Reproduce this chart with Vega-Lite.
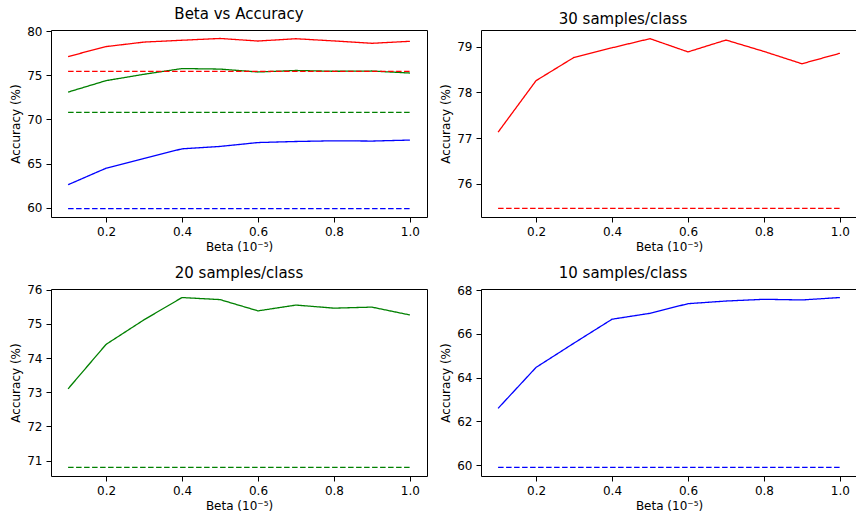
{
  "$schema": "https://vega.github.io/schema/vega-lite/v6.json",
  "background": "white",
  "padding": {"left": 9, "top": 6, "right": 0, "bottom": 0},
  "config": {
    "font": "DejaVu Sans",
    "view": {"stroke": "black", "strokeWidth": 1},
    "axis": {
      "grid": false,
      "domain": false,
      "tickColor": "black",
      "tickSize": 5,
      "labelColor": "black",
      "labelFontSize": 12,
      "labelPadding": 4,
      "titleColor": "black",
      "titleFontSize": 12,
      "titleFontWeight": "normal",
      "titlePadding": 4
    },
    "title": {"fontSize": 15, "fontWeight": "normal", "color": "black", "offset": 3},
    "line": {"strokeWidth": 1.3}
  },
  "datasets": {
    "acc": [
      {"beta": 0.1, "acc": 77.13, "series": "30", "type": "ours"},
      {"beta": 0.2, "acc": 78.26, "series": "30", "type": "ours"},
      {"beta": 0.3, "acc": 78.77, "series": "30", "type": "ours"},
      {"beta": 0.4, "acc": 78.98, "series": "30", "type": "ours"},
      {"beta": 0.5, "acc": 79.18, "series": "30", "type": "ours"},
      {"beta": 0.6, "acc": 78.89, "series": "30", "type": "ours"},
      {"beta": 0.7, "acc": 79.15, "series": "30", "type": "ours"},
      {"beta": 0.8, "acc": 78.9, "series": "30", "type": "ours"},
      {"beta": 0.9, "acc": 78.63, "series": "30", "type": "ours"},
      {"beta": 1.0, "acc": 78.86, "series": "30", "type": "ours"},
      {"beta": 0.1, "acc": 73.1, "series": "20", "type": "ours"},
      {"beta": 0.2, "acc": 74.4, "series": "20", "type": "ours"},
      {"beta": 0.3, "acc": 75.12, "series": "20", "type": "ours"},
      {"beta": 0.4, "acc": 75.77, "series": "20", "type": "ours"},
      {"beta": 0.5, "acc": 75.71, "series": "20", "type": "ours"},
      {"beta": 0.6, "acc": 75.38, "series": "20", "type": "ours"},
      {"beta": 0.7, "acc": 75.55, "series": "20", "type": "ours"},
      {"beta": 0.8, "acc": 75.46, "series": "20", "type": "ours"},
      {"beta": 0.9, "acc": 75.49, "series": "20", "type": "ours"},
      {"beta": 1.0, "acc": 75.26, "series": "20", "type": "ours"},
      {"beta": 0.1, "acc": 62.6, "series": "10", "type": "ours"},
      {"beta": 0.2, "acc": 64.47, "series": "10", "type": "ours"},
      {"beta": 0.3, "acc": 65.58, "series": "10", "type": "ours"},
      {"beta": 0.4, "acc": 66.67, "series": "10", "type": "ours"},
      {"beta": 0.5, "acc": 66.94, "series": "10", "type": "ours"},
      {"beta": 0.6, "acc": 67.38, "series": "10", "type": "ours"},
      {"beta": 0.7, "acc": 67.5, "series": "10", "type": "ours"},
      {"beta": 0.8, "acc": 67.58, "series": "10", "type": "ours"},
      {"beta": 0.9, "acc": 67.55, "series": "10", "type": "ours"},
      {"beta": 1.0, "acc": 67.66, "series": "10", "type": "ours"},
      {"beta": 0.1, "acc": 75.46, "series": "30", "type": "baseline"},
      {"beta": 1.0, "acc": 75.46, "series": "30", "type": "baseline"},
      {"beta": 0.1, "acc": 70.8, "series": "20", "type": "baseline"},
      {"beta": 1.0, "acc": 70.8, "series": "20", "type": "baseline"},
      {"beta": 0.1, "acc": 59.9, "series": "10", "type": "baseline"},
      {"beta": 1.0, "acc": 59.9, "series": "10", "type": "baseline"}
    ]
  },
  "data": {"name": "acc"},
  "columns": 2,
  "spacing": {"row": 72, "column": 54},
  "bounds": "flush",
  "concat": [
    {
      "title": "Beta vs Accuracy",
      "width": 376, "height": 187,
      "mark": {"type": "line", "clip": true},
      "encoding": {
        "x": {"field": "beta", "type": "quantitative", "title": "Beta (10⁻⁵)", "scale": {"domain": [0.055, 1.045], "nice": false, "zero": false}, "axis": {"values": [0.2, 0.4, 0.6, 0.8, 1.0], "format": ".1f"}},
        "y": {"field": "acc", "type": "quantitative", "title": "Accuracy (%)", "scale": {"domain": [58.94, 80.14], "nice": false, "zero": false}, "axis": {"values": [60, 65, 70, 75, 80]}},
        "color": {"field": "series", "type": "nominal", "scale": {"domain": ["30", "20", "10"], "range": ["#ff0000", "#008000", "#0000ff"]}, "legend": null},
        "strokeDash": {"field": "type", "type": "nominal", "scale": {"domain": ["ours", "baseline"], "range": [[1, 0], [5.5, 2.5]]}, "legend": null},
        "order": {"field": "beta", "type": "quantitative"}
      }
    },
    {
      "title": {"text": "30 samples/class", "anchor": "start", "dx": 119},
      "width": 380, "height": 187,
      "transform": [{"filter": "datum.series == '30'"}],
      "mark": {"type": "line", "clip": true},
      "encoding": {
        "x": {"field": "beta", "type": "quantitative", "title": "Beta (10⁻⁵)", "scale": {"domain": [0.055, 1.0555], "nice": false, "zero": false}, "axis": {"values": [0.2, 0.4, 0.6, 0.8, 1.0], "format": ".1f", "titleX": 188}},
        "y": {"field": "acc", "type": "quantitative", "title": "Accuracy (%)", "scale": {"domain": [75.27, 79.37], "nice": false, "zero": false}, "axis": {"values": [76, 77, 78, 79]}},
        "color": {"value": "#ff0000"},
        "strokeDash": {"field": "type", "type": "nominal", "scale": {"domain": ["ours", "baseline"], "range": [[1, 0], [5.5, 2.5]]}, "legend": null},
        "order": {"field": "beta", "type": "quantitative"}
      }
    },
    {
      "title": "20 samples/class",
      "width": 376, "height": 187,
      "transform": [{"filter": "datum.series == '20'"}],
      "mark": {"type": "line", "clip": true},
      "encoding": {
        "x": {"field": "beta", "type": "quantitative", "title": "Beta (10⁻⁵)", "scale": {"domain": [0.055, 1.045], "nice": false, "zero": false}, "axis": {"values": [0.2, 0.4, 0.6, 0.8, 1.0], "format": ".1f"}},
        "y": {"field": "acc", "type": "quantitative", "title": "Accuracy (%)", "scale": {"domain": [70.55, 76.02], "nice": false, "zero": false}, "axis": {"values": [71, 72, 73, 74, 75, 76]}},
        "color": {"value": "#008000"},
        "strokeDash": {"field": "type", "type": "nominal", "scale": {"domain": ["ours", "baseline"], "range": [[1, 0], [5.5, 2.5]]}, "legend": null},
        "order": {"field": "beta", "type": "quantitative"}
      }
    },
    {
      "title": {"text": "10 samples/class", "anchor": "start", "dx": 119},
      "width": 380, "height": 187,
      "transform": [{"filter": "datum.series == '10'"}],
      "mark": {"type": "line", "clip": true},
      "encoding": {
        "x": {"field": "beta", "type": "quantitative", "title": "Beta (10⁻⁵)", "scale": {"domain": [0.055, 1.0555], "nice": false, "zero": false}, "axis": {"values": [0.2, 0.4, 0.6, 0.8, 1.0], "format": ".1f", "titleX": 188}},
        "y": {"field": "acc", "type": "quantitative", "title": "Accuracy (%)", "scale": {"domain": [59.51, 68.05], "nice": false, "zero": false}, "axis": {"values": [60, 62, 64, 66, 68]}},
        "color": {"value": "#0000ff"},
        "strokeDash": {"field": "type", "type": "nominal", "scale": {"domain": ["ours", "baseline"], "range": [[1, 0], [5.5, 2.5]]}, "legend": null},
        "order": {"field": "beta", "type": "quantitative"}
      }
    }
  ]
}
